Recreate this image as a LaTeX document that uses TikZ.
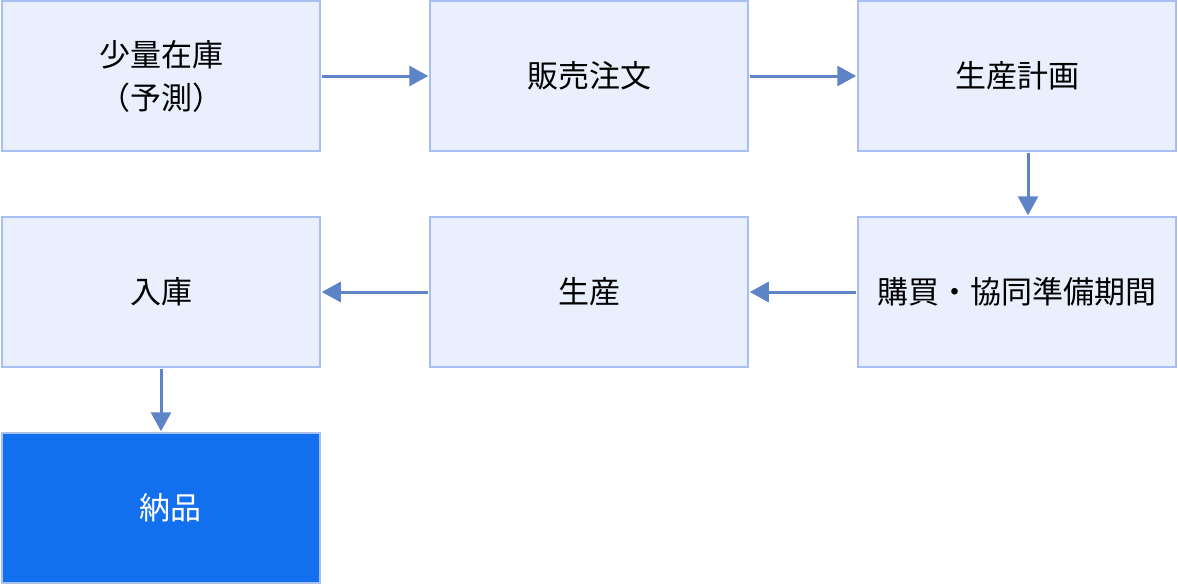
\documentclass[tikz,border=0pt]{standalone}
\usepackage{fontspec}
\setmainfont{Noto Sans CJK JP}
\usetikzlibrary{arrows.meta}
\definecolor{boxfill}{HTML}{E9EFFD}
\definecolor{boxline}{HTML}{A9BFF2}
\definecolor{arrowblue}{HTML}{5E84C8}
\definecolor{donefill}{HTML}{1270EE}
\tikzset{
  stepbox/.style={draw=boxline, fill=boxfill, line width=1.5pt, minimum width=318pt, minimum height=150pt, inner sep=0pt, align=center, font=\fontsize{31}{43}\selectfont},
  flow/.style={draw=arrowblue, line width=3pt, -{Triangle[length=19pt,width=20pt]}, shorten >=1pt, shorten <=1pt}
}
\begin{document}
\begin{tikzpicture}[x=1pt, y=-1pt]
            \useasboundingbox (0, 0) rectangle (1178, 584);
            \node[stepbox] (stock) at (161, 76) {少量在庫\\（予測）};
            \node[stepbox] (order) at (589, 76) {販売注文};
            \node[stepbox] (plan) at (1017, 76) {生産計画};
            \node[stepbox] (buy) at (1017, 292) {購買・協同準備期間};
            \node[stepbox] (make) at (589, 292) {生産};
            \node[stepbox] (store) at (161, 292) {入庫};
            \node[stepbox, fill=donefill, text=white] (ship) at (161, 508) {\hspace*{18pt}納品};
            \draw[flow] (stock) -- (order);
            \draw[flow] (order) -- (plan);
            \draw[flow] (plan.south -| 1028, 0) -- (buy.north -| 1028, 0);
            \draw[flow] (buy) -- (make);
            \draw[flow] (make) -- (store);
            \draw[flow] (store) -- (ship);
        \end{tikzpicture}
\end{document}
